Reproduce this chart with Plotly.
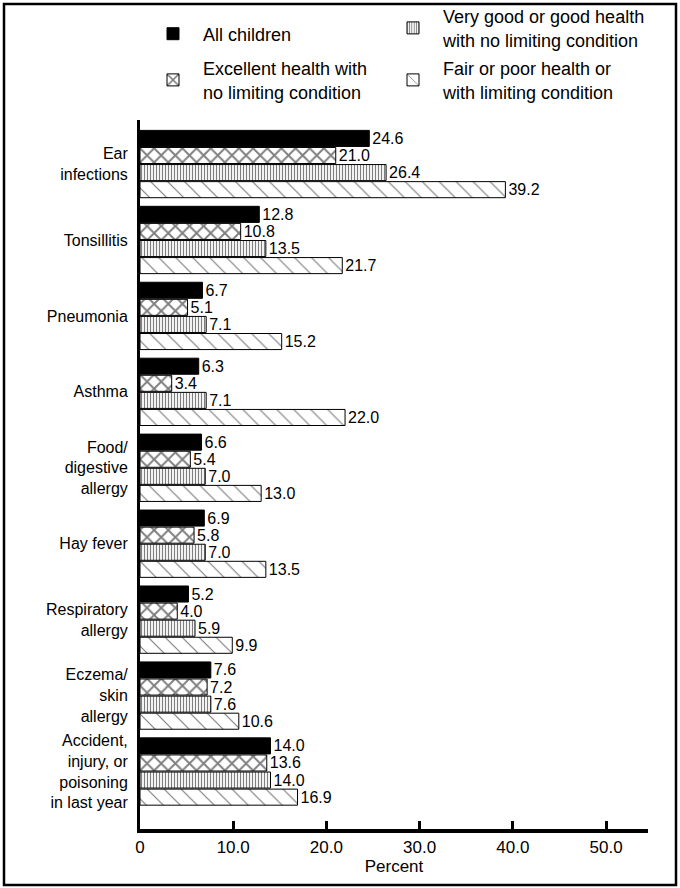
import plotly.graph_objects as go

categories = [
    "Ear<br>infections",
    "Tonsillitis",
    "Pneumonia",
    "Asthma",
    "Food/<br>digestive<br>allergy",
    "Hay fever",
    "Respiratory<br>allergy",
    "Eczema/<br>skin<br>allergy",
    "Accident,<br>injury, or<br>poisoning<br>in last year",
]
all_children = [24.6, 12.8, 6.7, 6.3, 6.6, 6.9, 5.2, 7.6, 14.0]
excellent = [21.0, 10.8, 5.1, 3.4, 5.4, 5.8, 4.0, 7.2, 13.6]
very_good = [26.4, 13.5, 7.1, 7.1, 7.0, 7.0, 5.9, 7.6, 14.0]
fair_poor = [39.2, 21.7, 15.2, 22.0, 13.0, 13.5, 9.9, 10.6, 16.9]

series_names = [
    "All children",
    "Excellent health with<br>no limiting condition",
    "Very good or good health<br>with no limiting condition",
    "Fair or poor health or<br>with limiting condition",
]
tick_vals = [0, 10, 20, 30, 40, 50]
tick_text = ["0", "10.0", "20.0", "30.0", "40.0", "50.0"]

W, H = 680, 888
L, R, T, B = 140, 648, 120, 829
pw, ph = R - L, B - T

FONT = "Liberation Sans, Arial, sans-serif"


def px_x(p):
    return (p - L) / pw


def px_y(p):
    return (B - p) / ph


styles = [
    dict(color="black", pattern=None, legend="legend", lx=143, ly=34),
    dict(color="white", pattern=dict(shape="x", fgcolor="black", bgcolor="white", size=10, solidity=0.35),
         legend="legend3", lx=143, ly=80),
    dict(color="white", pattern=dict(shape="|", fgcolor="black", bgcolor="white", size=3, solidity=0.4),
         legend="legend2", lx=383, ly=28),
    dict(color="white", pattern=dict(shape="\\", fgcolor="black", bgcolor="white", size=12, solidity=0.1),
         legend="legend4", lx=383, ly=80),
]

fig = go.Figure()
for name, vals, st in zip(series_names, [all_children, excellent, very_good, fair_poor], styles):
    marker = dict(color=st["color"], line=dict(color="black", width=1))
    if st["pattern"] is not None:
        marker["pattern"] = st["pattern"]
    fig.add_trace(go.Bar(
        y=categories, x=vals, orientation="h", name=name,
        marker=marker,
        text=[f"{v:.1f}" for v in vals], textposition="outside",
        constraintext="none",
        textfont=dict(family=FONT, size=16, color="black"),
        cliponaxis=False, legend=st["legend"],
    ))

legend_common = dict(
    xanchor="left", yanchor="middle", itemwidth=50,
    font=dict(family=FONT, size=18, color="black"),
    bgcolor="rgba(0,0,0,0)", borderwidth=0,
)
legends = {}
for st in styles:
    legends[st["legend"]] = dict(legend_common, x=px_x(st["lx"]), y=px_y(st["ly"]))

fig.update_layout(
    width=W, height=H,
    margin=dict(l=L, r=W - R, t=T, b=H - B, pad=0, autoexpand=False),
    paper_bgcolor="white", plot_bgcolor="white",
    barmode="group", bargap=0.1, bargroupgap=0.06,
    font=dict(family=FONT, size=16, color="black"),
    showlegend=True,
    **legends,
)
fig.update_xaxes(
    range=[0, 54.5], tickvals=tick_vals, ticktext=tick_text,
    showline=True, linecolor="black", linewidth=3.5,
    ticks="inside", ticklen=8, tickwidth=2.5, tickcolor="black",
    showgrid=False, zeroline=False,
    title=dict(text="Percent", font=dict(family=FONT, size=17), standoff=4),
    tickfont=dict(family=FONT, size=17),
)
fig.update_yaxes(
    categoryorder="array", categoryarray=categories,
    range=[8.757, -0.58],
    showline=True, linecolor="black", linewidth=3,
    ticks="", showgrid=False, zeroline=False,
    ticklabelstandoff=6,
    tickfont=dict(family=FONT, size=16),
)
# outer frame around the whole graphic
fig.add_shape(
    type="rect", xref="paper", yref="paper",
    x0=px_x(4), x1=px_x(676), y0=px_y(885), y1=px_y(4),
    line=dict(color="black", width=2.5), fillcolor="rgba(0,0,0,0)", layer="below",
)
fig.write_html(
    "out.html",
    config={"displayModeBar": False},
    post_script="document.body.style.margin='0px';",
)
